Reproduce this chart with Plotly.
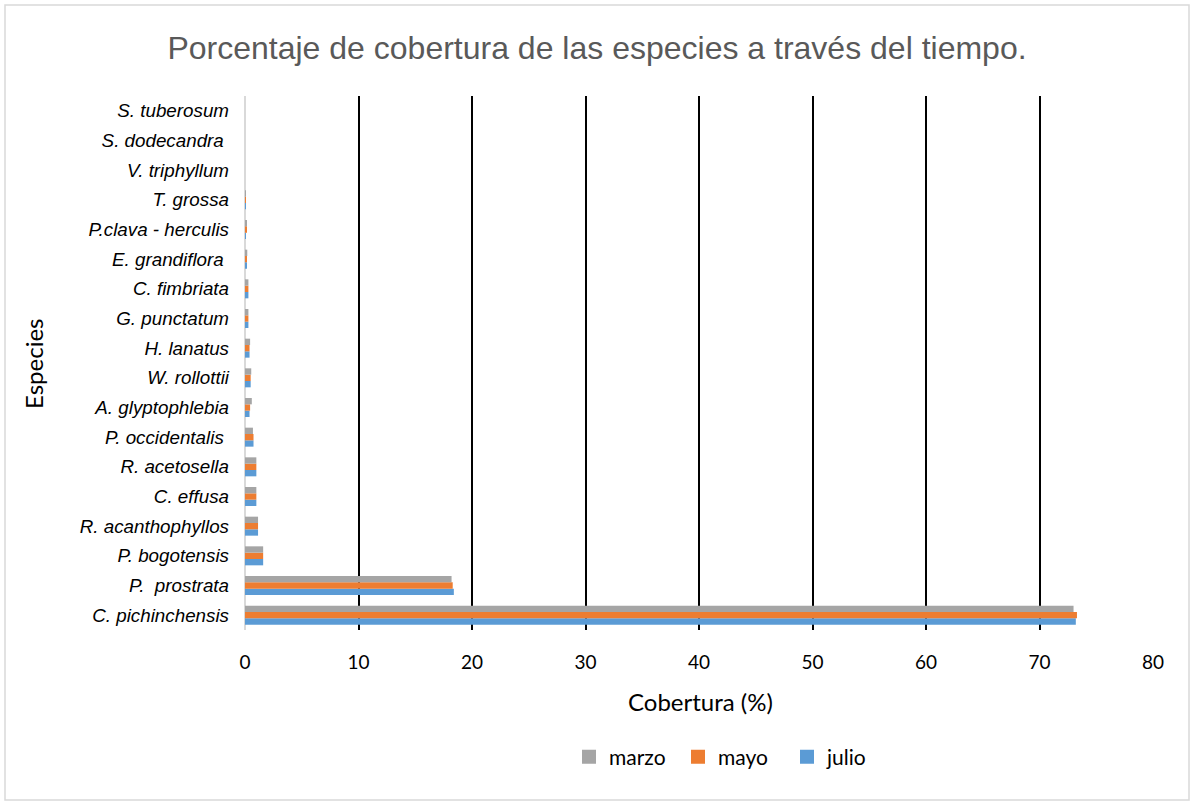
import plotly.graph_objects as go

# Categories listed from bottom to top of the chart
especies = [
    "C. pichinchensis", "P.  prostrata", "P. bogotensis", "R. acanthophyllos",
    "C. effusa", "R. acetosella", "P. occidentalis ", "A. glyptophlebia",
    "W. rollottii", "H. lanatus", "G. punctatum", "C. fimbriata",
    "E. grandiflora ", "P.clava - herculis", "T. grossa", "V. triphyllum",
    "S. dodecandra ", "S. tuberosum",
]
marzo = [73.0, 18.2, 1.6, 1.15, 1.0, 1.0, 0.7, 0.6, 0.55, 0.45, 0.3, 0.3, 0.2, 0.12, 0.04, 0.0, 0.0, 0.0]
mayo  = [73.3, 18.3, 1.6, 1.15, 1.0, 1.0, 0.75, 0.45, 0.5, 0.4, 0.3, 0.3, 0.17, 0.12, 0.03, 0.0, 0.0, 0.0]
julio = [73.2, 18.4, 1.6, 1.15, 1.0, 1.0, 0.75, 0.4, 0.5, 0.4, 0.3, 0.3, 0.13, 0.08, 0.02, 0.0, 0.0, 0.0]
x_ticks = [0, 10, 20, 30, 40, 50, 60, 70, 80]
series_names = ["marzo", "mayo", "julio"]
series_colors = ["#A5A5A5", "#ED7D31", "#5B9BD5"]

fig = go.Figure()
# trace order bottom->top inside a group: julio, mayo, marzo
for name, vals, col in [("julio", julio, "#5B9BD5"), ("mayo", mayo, "#ED7D31"), ("marzo", marzo, "#A5A5A5")]:
    fig.add_trace(go.Bar(y=especies, x=vals, name=name, orientation="h", showlegend=False,
                         legendgroup=name, marker=dict(color=col, line=dict(width=0))))
# legend entries with square swatches
for name, col in zip(series_names, series_colors):
    fig.add_trace(go.Scatter(x=[None], y=[None], mode="markers", name=name, legendgroup=name,
                             marker=dict(symbol="square", size=14, color=col)))

W, H = 1194, 805
L, R, T, B = 245, 41, 96, 175
pw, ph = W - L - R, H - T - B

def px(xp):
    return (xp - L) / pw

def py(yp):
    return (H - B - yp) / ph

fig.update_layout(
    width=W, height=H,
    margin=dict(l=L, r=R, t=T, b=B),
    paper_bgcolor="white", plot_bgcolor="white",
    barmode="group", bargap=0.36, bargroupgap=0,
    showlegend=True,
    legend=dict(orientation="h", traceorder="normal", x=px(569), y=py(757), yanchor="middle", xanchor="left",
                font=dict(family="Lato", size=21, color="#000000"), itemwidth=30,
                tracegroupgap=0, entrywidthmode="pixels", entrywidth=64),
    title=dict(text="Porcentaje de cobertura de las especies a través del tiempo.",
               x=0.5, xref="container", xanchor="center", y=1 - 48 / H, yanchor="middle",
               font=dict(family="Liberation Sans", size=32, color="#595959")),
    font=dict(family="Lato"),
)

fig.update_xaxes(range=[0, 80], tickvals=x_ticks, showgrid=True, gridcolor="#000000", gridwidth=2,
                 zeroline=True, zerolinecolor="#D9D9D9", zerolinewidth=2, showline=False,
                 tickfont=dict(family="Lato", size=19, color="#000000"), ticks="", ticklabelstandoff=19)
fig.update_yaxes(showgrid=False, zeroline=False, showline=False, ticks="",
                 tickfont=dict(family="Liberation Sans", size=18.8, color="#000000", style="italic"),
                 ticklabelstandoff=15)

fig.add_annotation(text="Cobertura (%)", x=px(700), y=py(702), xref="paper", yref="paper",
                   xanchor="center", yanchor="middle",
                   showarrow=False, font=dict(family="Lato", size=24, color="#000000"))
fig.add_annotation(text="Especies", x=px(33), y=py(364), xref="paper", yref="paper", textangle=-90,
                   xanchor="center", yanchor="middle",
                   showarrow=False, font=dict(family="Lato", size=24, color="#000000"))

# outer chart border
fig.add_shape(type="rect", xref="paper", yref="paper", x0=px(5), x1=px(1189), y0=py(800), y1=py(5),
              line=dict(color="#D9D9D9", width=1.5), fillcolor="rgba(0,0,0,0)", layer="below")

fig.write_html("out.html")
